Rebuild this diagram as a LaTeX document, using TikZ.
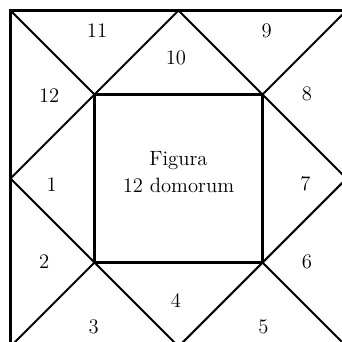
\documentclass[tikz,border=0pt]{standalone}
\usepackage{tikz}
\usetikzlibrary{positioning, calc}

\begin{document}
\begin{tikzpicture}[
  x=20mm, y=20mm,
  font=\fontsize{14}{18}\selectfont,
  line/.style={line width=1.4pt, line join=miter, line cap=rect},
  house/.style={inner sep=0pt},
  title/.style={align=center, inner sep=0pt},
]
\useasboundingbox (-0.125,0.054) rectangle (3.935,4.125);
% outer square, midpoints and inner square
\coordinate (NW) at (0,4);
\coordinate (NE) at (4,4);
\coordinate (SE) at (4,0);
\coordinate (SW) at (0,0);
\coordinate (Ntop) at (2,4);
\coordinate (Eright) at (4,2);
\coordinate (Sbot) at (2,0);
\coordinate (Wleft) at (0,2);
\coordinate (inNW) at (1,3);
\coordinate (inNE) at (3,3);
\coordinate (inSE) at (3,1);
\coordinate (inSW) at (1,1);

\draw[line] (NW) -- (NE) -- (SE) -- (SW) -- cycle;
\draw[line] (Ntop) -- (Eright) -- (Sbot) -- (Wleft) -- cycle;
\draw[line] (inNW) -- (inNE) -- (inSE) -- (inSW) -- cycle;
\draw[line] (NW) -- (inNW);
\draw[line] (NE) -- (inNE);
\draw[line] (SE) -- (inSE);
\draw[line] (SW) -- (inSW);

% houses
\node[house] (h1)  at (0.49,1.93) {1};
\node[house] (h2)  at (0.40,1.01) {2};
\node[house] (h3)  at (0.99,0.23) {3};
\node[house] (h4)  at (1.97,0.55) {4};
\node[house] (h5)  at (3.01,0.23) {5};
\node[house] (h6)  at (3.53,1.01) {6};
\node[house] (h7)  at (3.51,1.94) {7};
\node[house] (h8)  at (3.53,3.01) {8};
\node[house] (h9)  at (3.05,3.76) {9};
\node[house] (h10) at (1.97,3.44) {10};
\node[house] (h11) at (1.03,3.76) {11};
\node[house] (h12) at (0.46,2.99) {12};

\node[title] (fig) at (2,2.08) {Figura\\12 domorum};
\end{tikzpicture}
\end{document}
